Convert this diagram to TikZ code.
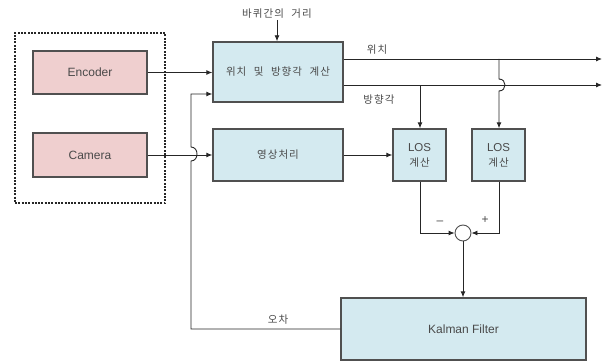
\documentclass[tikz,border=0pt]{standalone}
\usepackage{fontspec}
\setmainfont{Liberation Sans}
\newfontfamily\kr[LetterSpace=10,WordSpace=2.2]{Noto Sans CJK KR}
\usetikzlibrary{arrows.meta}
\definecolor{pinkf}{HTML}{EFCFCF}
\definecolor{bluef}{HTML}{D4EAF0}
\definecolor{bord}{HTML}{505050}
\definecolor{txt}{HTML}{4A4A4A}
\begin{document}
\begin{tikzpicture}[x=1pt,y=-1pt,
  box/.style={draw=bord,line width=1.4pt,inner sep=0pt,text=txt,font=\fontsize{12}{14}\selectfont,align=center},
  pbox/.style={box,fill=pinkf},
  bbox/.style={box,fill=bluef},
  con/.style={draw=black!85,line width=0.9pt},
  arr/.style={con,-{Latex[length=6pt,width=5pt]}},
  lbl/.style={text=txt,font=\kr\fontsize{10.5}{12}\selectfont,inner sep=1pt},
  grp/.style={draw=black!85,line width=1.3pt,dash pattern=on 2pt off 1.3pt,inner sep=0pt}]
\useasboundingbox (0,0) rectangle (607,361);
\node[grp,minimum width=150,minimum height=170] (grp) at (90,118) {};
\node[pbox,minimum width=114,minimum height=43] (enc) at (90,72.5) {Encoder};
\node[pbox,minimum width=114,minimum height=44] (cam) at (90,155) {Camera};
\node[bbox,minimum width=130,minimum height=60,font=\kr\fontsize{10.5}{12}\selectfont] (pos) at (278,72) {위치 및 방향각 계산};
\node[bbox,minimum width=130,minimum height=52,font=\kr\fontsize{10.5}{12}\selectfont] (img) at (278,155) {영상처리};
\node[bbox,minimum width=53,minimum height=52,font=\fontsize{11.5}{15}\selectfont] (los1) at (419.5,155) {LOS\\{\kr\fontsize{10.5}{12}\selectfont 계산}};
\node[bbox,minimum width=53,minimum height=52,font=\fontsize{11.5}{15}\selectfont] (los2) at (498.5,155) {LOS\\{\kr\fontsize{10.5}{12}\selectfont 계산}};
\node[draw=bord,line width=0.9pt,fill=white,circle,minimum size=16,inner sep=0pt] (sum) at (463,233) {};
\node[bbox,minimum width=245,minimum height=62] (kal) at (463.5,329) {Kalman Filter};
\node[lbl] (dist) at (277,14) {바퀴간의 거리};
\node[lbl] (lpos) at (377,50) {위치};
\node[lbl] (ldir) at (379,100) {방향각};
\node[lbl] (lerr) at (278,320) {오차};
\node[text=txt,font=\fontsize{12}{12}\selectfont,inner sep=0pt] (minus) at (440,223) {–};
\node[text=txt,font=\fontsize{12}{12}\selectfont,inner sep=0pt] (plus) at (485,220) {+};
\coordinate (o1) at (602,59);
\coordinate (o2) at (602,85);
\coordinate (b1) at (420,85);
\coordinate (b2) at (499,59);
\coordinate (fb) at (191,329);
% connectors
\draw[arr] (enc.east) -- (pos.west |- enc.east);
\draw[arr] (cam.east) -- (img.west |- cam.east);
\draw[arr] (dist.south) -- (pos.north -| dist.south);
\draw[arr] (pos.east |- o1) -- (o1);
\draw[arr] (pos.east |- o2) -- (o2);
\draw[arr] (b1) -- (los1.north -| b1);
\draw[arr] (b2) -- (499,79) .. controls (507,79) and (507,91) .. (499,91) -- (los2.north -| b2);
\draw[arr] (img.east) -- (los1.west);
\draw[arr] (los1.south -| b1) |- (sum.west);
\draw[arr] (los2.south -| b2) |- (sum.east);
\draw[arr] (sum.south) -- (kal.north -| sum.south);
\draw[arr] (kal.west |- fb) -- (fb) -- (191,161) .. controls (199,161) and (199,147) .. (191,147) -- (191,94) -- (pos.west |- 0,94);
\end{tikzpicture}
\end{document}
